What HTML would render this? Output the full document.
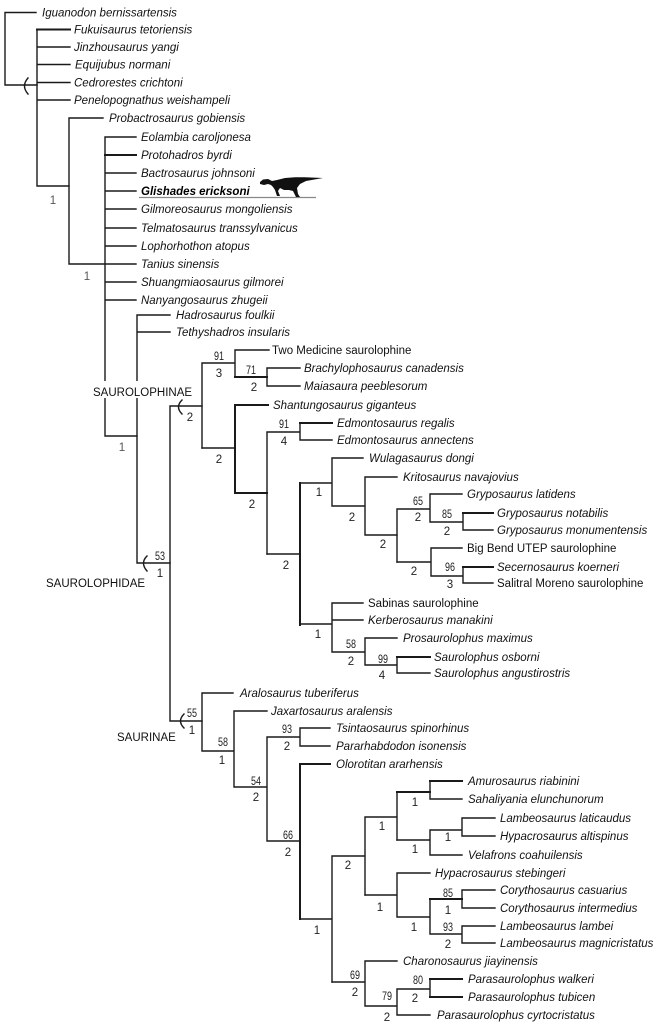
<!DOCTYPE html>
<html>
<head>
<meta charset="utf-8">
<style>
html,body{margin:0;padding:0;background:#fff;}
svg{display:block;}
.t{font-family:"Liberation Sans",Arial,sans-serif;font-size:11.5px;font-style:italic;fill:#111;}
.r{font-family:"Liberation Sans",Arial,sans-serif;font-size:11.5px;fill:#111;}
.b{font-family:"Liberation Sans",Arial,sans-serif;font-size:11.5px;font-style:italic;font-weight:bold;fill:#000;}
.n{font-family:"Liberation Sans",Arial,sans-serif;font-size:11.5px;fill:#222;text-anchor:middle;}
.g{fill:#555;}
.c{font-family:"Liberation Sans",Arial,sans-serif;font-size:11.5px;fill:#111;}
</style>
</head>
<body>
<svg width="659" height="1026" viewBox="0 0 659 1026" xmlns="http://www.w3.org/2000/svg">
<rect x="0" y="0" width="659" height="1026" fill="#fff"/>
<g fill="none" stroke="#1a1a1a" stroke-width="1.4" stroke-linecap="square">
<path d="M5,12.5 H36 M5,12.5 V85 H37"/>
<path d="M37,29.5 V186 M37,47 H70 M37,64.5 H70 M37,82.5 H70 M37,100 H70 M37,186 H69"/>
<path d="M37,29.5 H70" stroke-width="2"/>
<path d="M69,118 V264 M69,118 H103 M69,264 H105"/>
<path d="M105,137 V436 M105,137 H136 M105,173 H136 M105,191 H136 M105,209 H136 M105,228 H136 M105,246 H136 M105,264 H136 M105,282 H136 M105,300 H136 M105,436 H137"/>
<path d="M105,155 H136" stroke-width="2"/>
<path d="M137,315 V563 M137,315 H170 M137,332 H170 M137,563 H170"/>
<path d="M170,406 V721 M170,406 H202 M170,721 H202"/>
<path d="M202,363 V448 M202,363 H235 M235,350 V377 M235,350 H269 M267,368 V386 M267,368 H300 M267,386 H300"/>
<path d="M235,377 H267" stroke-width="2"/>
<path d="M202,448 H235 M267,432 V554 M267,432 H300 M300,423 V440 M300,440 H332"/>
<path d="M235,405 V493 M235,405 H268 M235,493 H267 M300,423 H332" stroke-width="2"/>
<path d="M267,554 H300 M300,483 H332 M332,458 V506 M332,458 H363 M332,506 H365 M365,477 V535 M365,477 H397 M365,535 H397"/>
<path d="M300,483 V625" stroke-width="2"/>
<path d="M397,509 V562 M397,509 H430 M430,494 V522 M430,494 H462 M430,522 H463 M463,513 V530 M463,530 H493"/>
<path d="M463,513 H493" stroke-width="2"/>
<path d="M397,562 H431 M431,548 V576 M431,548 H462 M431,576 H463 M463,567 V583 M463,583 H493"/>
<path d="M463,567 H493" stroke-width="2"/>
<path d="M300,624 H332 M332,603 V652 M332,603 H363 M332,620 H363 M332,652 H365 M365,638 V665 M365,638 H397 M365,665 H397 M397,657 V673 M397,673 H430"/>
<path d="M397,657 H430" stroke-width="2"/>
<path d="M202,693 V751 M202,693 H233 M202,751 H234 M234,711 V787 M234,711 H267 M234,787 H267 M267,737 V841 M267,737 H300 M300,728 V746 M300,728 H330 M300,746 H330 M267,841 H300"/>
<path d="M300,764 V919 M300,764 H330" stroke-width="2"/>
<path d="M300,919 H332 M332,856 V982 M332,856 H365 M365,817 V895 M365,817 H397 M397,792 V840 M430,781 V799 M430,799 H462"/>
<path d="M397,792 H430 M430,781 H462" stroke-width="2"/>
<path d="M397,840 H430 M430,830 V855 M430,830 H462 M462,818 V836 M462,818 H495 M462,836 H495 M430,855 H462"/>
<path d="M365,895 H397 M397,873 V917 M397,873 H430 M397,917 H430 M430,899 V934 M462,890 V908 M462,890 H495 M462,908 H495 M430,934 H462 M462,926 V943 M462,926 H495 M462,943 H495"/>
<path d="M430,899 H462" stroke-width="2"/>
<path d="M332,982 H365 M365,961 V1006 M365,961 H397 M365,1006 H397 M397,989 V1015 M397,989 H430 M430,979 V997 M397,1015 H430"/>
<path d="M430,979 H462 M430,997 H462" stroke-width="2"/>
<path d="M28,78 Q21,86 28,94"/>
<path d="M147,556 Q140,563 147,571"/>
<path d="M182,400 Q175,407 182,414"/>
<path d="M184,714 Q177,721 184,728"/>
</g>

<rect x="91" y="381" width="104" height="17" fill="#fff"/>
<text class="c" x="93" y="396">SAUROLOPHINAE</text>
<text class="c" x="46" y="587">SAUROLOPHIDAE</text>
<text class="c" x="117" y="741">SAURINAE</text>

<line x1="139" y1="197.5" x2="316" y2="197.5" stroke="#888" stroke-width="1.2"/>
<path d="M260,182 L263,179.5 L268,179 L272,181 L277,180 L285,178 L295,177.3 L305,177.3 L323,178 L306,181 L300,184 L297,188 L298,194 L300,197 L296,197 L293,191 L289,190 L284,190 L280,188 L278,191 L280,196 L277,196 L275,190 L273,187 L271,185 L268,184 L264,185 L260,184 Z" fill="#111"/>

<text class="t" x="42" y="16.5">Iguanodon bernissartensis</text>
<text class="t" x="74" y="33.5">Fukuisaurus tetoriensis</text>
<text class="t" x="74" y="51">Jinzhousaurus yangi</text>
<text class="t" x="75" y="68.5">Equijubus normani</text>
<text class="t" x="74" y="86.5">Cedrorestes crichtoni</text>
<text class="t" x="74" y="104">Penelopognathus weishampeli</text>
<text class="t" x="109" y="122">Probactrosaurus gobiensis</text>
<text class="t" x="141" y="141">Eolambia caroljonesa</text>
<text class="t" x="141" y="159">Protohadros byrdi</text>
<text class="t" x="141" y="177">Bactrosaurus johnsoni</text>
<text class="b" x="141" y="195">Glishades ericksoni</text>
<text class="t" x="141" y="213">Gilmoreosaurus mongoliensis</text>
<text class="t" x="141" y="232">Telmatosaurus transsylvanicus</text>
<text class="t" x="141" y="250">Lophorhothon atopus</text>
<text class="t" x="141" y="268">Tanius sinensis</text>
<text class="t" x="141" y="286">Shuangmiaosaurus gilmorei</text>
<text class="t" x="141" y="304">Nanyangosaurus zhugeii</text>
<text class="t" x="176" y="319">Hadrosaurus foulkii</text>
<text class="t" x="176" y="336">Tethyshadros insularis</text>
<text class="r" x="272" y="354">Two Medicine saurolophine</text>
<text class="t" x="304" y="372">Brachylophosaurus canadensis</text>
<text class="t" x="304" y="390">Maiasaura peeblesorum</text>
<text class="t" x="273" y="409">Shantungosaurus giganteus</text>
<text class="t" x="337" y="427">Edmontosaurus regalis</text>
<text class="t" x="337" y="444">Edmontosaurus annectens</text>
<text class="t" x="369" y="462">Wulagasaurus dongi</text>
<text class="t" x="403" y="481">Kritosaurus navajovius</text>
<text class="t" x="467" y="498">Gryposaurus latidens</text>
<text class="t" x="497" y="517">Gryposaurus notabilis</text>
<text class="t" x="497" y="534">Gryposaurus monumentensis</text>
<text class="r" x="467" y="552">Big Bend UTEP saurolophine</text>
<text class="t" x="497" y="571">Secernosaurus koerneri</text>
<text class="r" x="497" y="587">Salitral Moreno saurolophine</text>
<text class="r" x="368" y="607">Sabinas saurolophine</text>
<text class="t" x="368" y="624">Kerberosaurus manakini</text>
<text class="t" x="403" y="642">Prosaurolophus maximus</text>
<text class="t" x="434" y="661">Saurolophus osborni</text>
<text class="t" x="434" y="677">Saurolophus angustirostris</text>
<text class="t" x="240" y="697">Aralosaurus tuberiferus</text>
<text class="t" x="271" y="715">Jaxartosaurus aralensis</text>
<text class="t" x="336" y="732">Tsintaosaurus spinorhinus</text>
<text class="t" x="336" y="750">Pararhabdodon isonensis</text>
<text class="t" x="336" y="768">Olorotitan ararhensis</text>
<text class="t" x="468" y="785">Amurosaurus riabinini</text>
<text class="t" x="468" y="803">Sahaliyania elunchunorum</text>
<text class="t" x="500" y="822">Lambeosaurus laticaudus</text>
<text class="t" x="500" y="840">Hypacrosaurus altispinus</text>
<text class="t" x="468" y="859">Velafrons coahuilensis</text>
<text class="t" x="435" y="877">Hypacrosaurus stebingeri</text>
<text class="t" x="500" y="894">Corythosaurus casuarius</text>
<text class="t" x="500" y="912">Corythosaurus intermedius</text>
<text class="t" x="500" y="930">Lambeosaurus lambei</text>
<text class="t" x="500" y="947">Lambeosaurus magnicristatus</text>
<text class="t" x="403" y="965">Charonosaurus jiayinensis</text>
<text class="t" x="468" y="983">Parasaurolophus walkeri</text>
<text class="t" x="468" y="1001">Parasaurolophus tubicen</text>
<text class="t" x="437" y="1019">Parasaurolophus cyrtocristatus</text>

<text class="n g" x="53" y="204">1</text>
<text class="n g" x="87" y="280">1</text>
<text class="n g" x="122" y="451">1</text>
<text class="n" x="160" y="560" textLength="10" lengthAdjust="spacingAndGlyphs">53</text>
<text class="n" x="160" y="577">1</text>
<text class="n" x="190" y="421">2</text>
<text class="n" x="219" y="360" textLength="10" lengthAdjust="spacingAndGlyphs">91</text>
<text class="n" x="219" y="377">3</text>
<text class="n" x="251" y="374" textLength="10" lengthAdjust="spacingAndGlyphs">71</text>
<text class="n" x="254" y="391">2</text>
<text class="n" x="219" y="463">2</text>
<text class="n" x="252" y="508">2</text>
<text class="n" x="284" y="428" textLength="10" lengthAdjust="spacingAndGlyphs">91</text>
<text class="n" x="284" y="445">4</text>
<text class="n" x="286" y="569">2</text>
<text class="n" x="319" y="496">1</text>
<text class="n" x="352" y="521">2</text>
<text class="n" x="383" y="548">2</text>
<text class="n" x="418" y="505" textLength="10" lengthAdjust="spacingAndGlyphs">65</text>
<text class="n" x="418" y="521">2</text>
<text class="n" x="447" y="518" textLength="10" lengthAdjust="spacingAndGlyphs">85</text>
<text class="n" x="447" y="535">2</text>
<text class="n" x="414" y="575">2</text>
<text class="n" x="450" y="571" textLength="10" lengthAdjust="spacingAndGlyphs">96</text>
<text class="n" x="450" y="588">3</text>
<text class="n" x="318" y="638">1</text>
<text class="n" x="351" y="648" textLength="10" lengthAdjust="spacingAndGlyphs">58</text>
<text class="n" x="351" y="665">2</text>
<text class="n" x="383" y="663" textLength="10" lengthAdjust="spacingAndGlyphs">99</text>
<text class="n" x="382" y="679">4</text>
<text class="n" x="192" y="717" textLength="10" lengthAdjust="spacingAndGlyphs">55</text>
<text class="n" x="192" y="734">1</text>
<text class="n" x="223" y="746" textLength="10" lengthAdjust="spacingAndGlyphs">58</text>
<text class="n" x="222" y="764">1</text>
<text class="n" x="256" y="785" textLength="10" lengthAdjust="spacingAndGlyphs">54</text>
<text class="n" x="256" y="801">2</text>
<text class="n" x="287" y="733" textLength="10" lengthAdjust="spacingAndGlyphs">93</text>
<text class="n" x="287" y="750">2</text>
<text class="n" x="288" y="839" textLength="10" lengthAdjust="spacingAndGlyphs">66</text>
<text class="n" x="288" y="856">2</text>
<text class="n" x="317" y="934">1</text>
<text class="n" x="348" y="869">2</text>
<text class="n" x="382" y="830">1</text>
<text class="n" x="415" y="806">1</text>
<text class="n" x="415" y="853">1</text>
<text class="n" x="448" y="841">1</text>
<text class="n" x="380" y="911">1</text>
<text class="n" x="414" y="931">1</text>
<text class="n" x="448" y="897" textLength="10" lengthAdjust="spacingAndGlyphs">85</text>
<text class="n" x="448" y="914">1</text>
<text class="n" x="448" y="931" textLength="10" lengthAdjust="spacingAndGlyphs">93</text>
<text class="n" x="448" y="948">2</text>
<text class="n" x="355" y="979" textLength="10" lengthAdjust="spacingAndGlyphs">69</text>
<text class="n" x="355" y="996">2</text>
<text class="n" x="387" y="1000" textLength="10" lengthAdjust="spacingAndGlyphs">79</text>
<text class="n" x="387" y="1021">2</text>
<text class="n" x="418" y="984" textLength="10" lengthAdjust="spacingAndGlyphs">80</text>
<text class="n" x="415" y="1002">2</text>
</svg>
</body>
</html>
